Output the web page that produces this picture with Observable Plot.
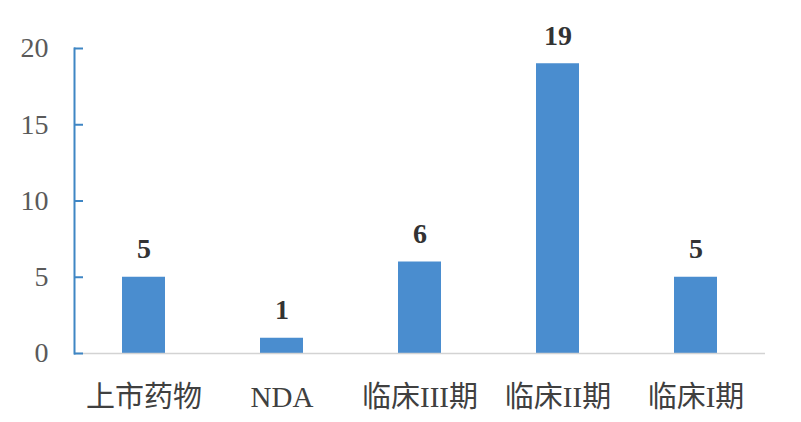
<!DOCTYPE html>
<html>
<head>
<meta charset="utf-8">
<script src="https://cdn.jsdelivr.net/npm/d3@7"></script>
<script src="https://cdn.jsdelivr.net/npm/@observablehq/plot@0.6"></script>
<style>
  html, body { margin: 0; padding: 0; background: #ffffff; }
  #chart svg { display: block; }
</style>
</head>
<body>
<div id="chart"></div>
<script>
const categories = ["上市药物", "NDA", "临床III期", "临床II期", "临床I期"];
const counts = [5, 1, 6, 19, 5];
const yTicks = [0, 5, 10, 15, 20];

const data = categories.map((c, i) => ({category: c, count: counts[i]}));

const W = 801, H = 422;
const mL = 74, mR = 36, mT = 48, mB = 69;
const serif = "'Times New Roman', 'Liberation Serif', 'Noto Sans CJK SC', serif";

const chart = Plot.plot({
  width: W,
  height: H,
  marginLeft: mL,
  marginRight: mR,
  marginTop: mT,
  marginBottom: mB,
  style: {background: "#ffffff", fontFamily: serif},
  x: {domain: categories, paddingInner: 0.69, paddingOuter: 0.345, label: null},
  y: {domain: [0, 20], label: null},
  marks: [
    Plot.barY(data, {x: "category", y: "count", fill: "#4a8dcf"}),
    Plot.ruleY([0], {stroke: "#d3d3d3", strokeWidth: 1.5}),
    Plot.frame({anchor: "left", stroke: "#3f86c4", strokeWidth: 2}),
    Plot.ruleY(yTicks, {y: d => d, stroke: "#3f86c4", strokeWidth: 2, insetRight: W - mL - mR - 9}),
    Plot.axisY({ticks: yTicks, tickSize: 0, tickPadding: 26, fontSize: 28, fontFamily: serif, fill: "#5a5a5a", label: null}),
    Plot.axisX({tickSize: 0, tickPadding: 33, fontSize: 29, fontFamily: serif, fill: "#404040", label: null}),
    Plot.text(data, {x: "category", y: "count", text: d => String(d.count), lineAnchor: "bottom", dy: -19, fontSize: 28, fontWeight: "bold", fontFamily: serif, fill: "#333333"})
  ]
});
document.getElementById("chart").appendChild(chart);
</script>
</body>
</html>
